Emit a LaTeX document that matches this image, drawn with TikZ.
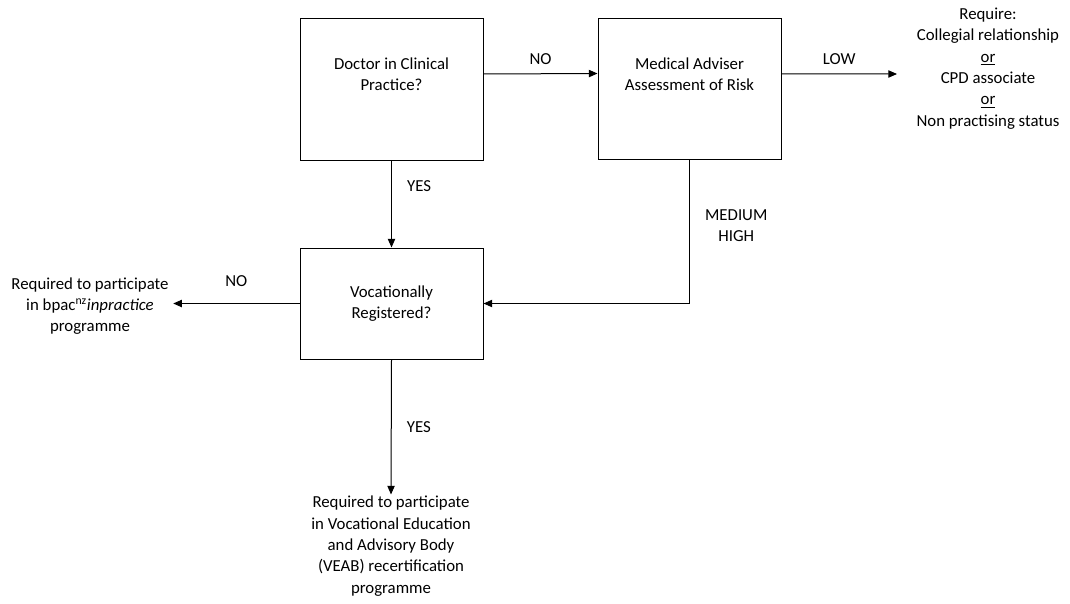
\documentclass[tikz,border=0pt]{standalone}
\usepackage{fontspec}
\setmainfont{Carlito}
\usetikzlibrary{arrows.meta, positioning, calc}

\begin{document}
\begin{tikzpicture}[x=0.75pt, y=-0.75pt,
        every node/.style={font=\fontsize{12.6}{16}\selectfont},
        box/.style={draw, line width=0.75pt, minimum width=137.25pt},
        flow/.style={line width=0.75pt, -{Triangle[length=6.5pt, width=5.5pt]}}]
    \useasboundingbox (0, 0) rectangle (1070, 603);
    % decision boxes
    \node[box, minimum height=106.5pt] (doctor) at (391.5, 89) {};
    \node[align=center] (doctortext) at (391.5, 74) {Doctor in Clinical\\Practice?};
    \node[box, minimum height=105.75pt] (adviser) at (689.5, 88.5) {};
    \node[align=center] (advisertext) at (689.5, 74) {Medical Adviser\\Assessment of Risk};
    \node[box, minimum height=83.25pt, align=center] (vocational) at (391.5, 303.5)
        {Vocationally\\Registered?};
    % outcomes
    \node[align=center, inner sep=0pt] (require) at (988, 68.5)
        {Require:\\Collegial relationship\\\underline{or}\\CPD associate\\\underline{or}\\Non practising status};
    \node[align=center] (inpractice) at (90, 306)
        {Required to participate\\in bpac\textsuperscript{nz}\textit{inpractice}\\programme};
    \node[align=center, inner sep=0pt] (veab) at (391, 546)
        {Required to participate\\in Vocational Education\\and Advisory Body\\(VEAB) recertification\\programme};
    \coordinate (lowend) at (897, 74);
    % connectors
    \draw[flow] ([yshift=11.25pt]doctor.east) -- ([yshift=11.25pt]adviser.west)
        node[pos=0.5, above=3pt] {NO};
    \draw[flow] ([yshift=10.9pt]adviser.east) -- (lowend)
        node[pos=0.5, above=3pt] {LOW};
    \draw[flow] (doctor.south) -- (vocational.north)
        node[pos=0.3, right=8pt] {YES};
    \draw[flow] (adviser.south) |- (vocational.east)
        node[pos=0.23, right=8pt, align=center] {MEDIUM\\HIGH};
    \draw[flow] (vocational.west) -- (vocational.west -| inpractice.east)
        node[pos=0.5, above=9pt] {NO};
    \draw[flow] (vocational.south) -- ([yshift=1pt]veab.north)
        node[pos=0.5, right=8pt] {YES};
\end{tikzpicture}
\end{document}
